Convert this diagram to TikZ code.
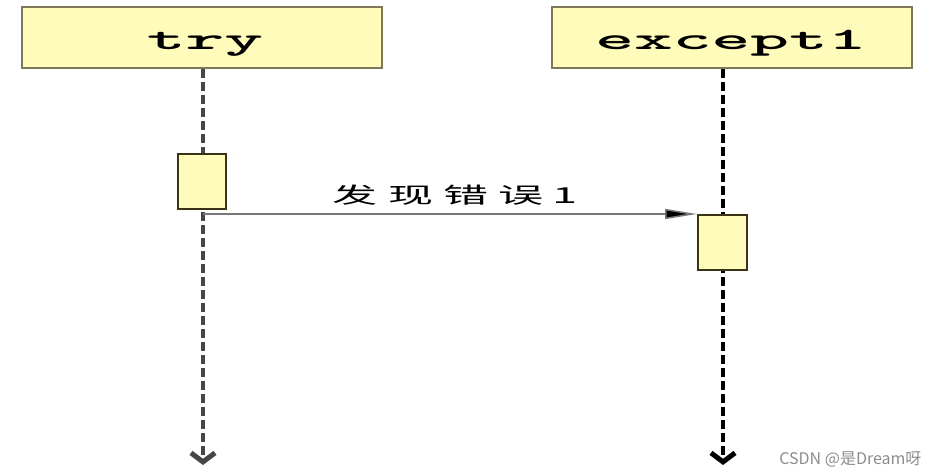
\documentclass[tikz,border=0pt]{standalone}
\usepackage{fontspec}
\usepackage{graphicx}
\usetikzlibrary{arrows.meta}
\newfontfamily\cjk{Noto Sans CJK SC}
\definecolor{boxfill}{RGB}{255,251,187}
\definecolor{boxedge}{RGB}{128,118,88}
\definecolor{actedge}{RGB}{60,50,20}
\tikzset{
  headbox/.style={draw=boxedge, fill=boxfill, line width=2.4pt, inner sep=0pt},
  actbox/.style={draw=actedge, fill=boxfill, line width=2pt, inner sep=0pt},
  lifeline/.style={line width=3.4pt, dash pattern=on 9pt off 4pt, -{Straight Barb[length=9pt,width=24pt,line width=5pt]}},
  msg/.style={draw={rgb,255:red,120;green,120;blue,120}, line width=1.5pt, -{Triangle[length=32pt,width=10pt,fill=black]}},
  headtxt/.style={font=\ttfamily\bfseries\fontsize{31}{31}\selectfont, anchor=base},
}
\begin{document}
\begin{tikzpicture}[x=1pt,y=-1pt]
\useasboundingbox (0,0) rectangle (940,476);
% header boxes
\draw[headbox] (22,7) rectangle (382,68);
\draw[headbox] (552,7) rectangle (912,68);
\node[headtxt] (tryt) at (205,50) {\scalebox{2.38}[1]{try}};
\node[headtxt] (exct) at (731,50) {\scalebox{2.38}[1]{except1}};
\coordinate (tryhead) at (203,69);
\coordinate (exchead) at (723,69);
\coordinate (tryend) at (203,465);
\coordinate (excend) at (723,465);
% lifelines
\draw[lifeline, draw={rgb,255:red,70;green,70;blue,70}] (tryhead) -- (tryend);
\draw[lifeline, draw=black] (exchead) -- (excend);
% activations
\node[actbox, minimum width=48pt, minimum height=55pt] (tryact) at (202,181.5) {};
\node[actbox, minimum width=49pt, minimum height=55pt] (excact) at (722.5,242.5) {};
% message
\coordinate (msgstart) at (203,214);
\draw[msg] (msgstart) -- (excact.north west);
\node[font=\cjk\fontsize{22}{22}\selectfont, anchor=base] (lbl) at (455,204)
  {\scalebox{2.05}[1]{发\hspace{5pt}现\hspace{5pt}错\hspace{5pt}误\hspace{4pt}1}};
% watermark
\node[font=\cjk\fontsize{16}{16}\selectfont, text={rgb,255:red,140;green,140;blue,140}, anchor=base east] (wm) at (925,464) {CSDN @是Dream呀};
\end{tikzpicture}
\end{document}
